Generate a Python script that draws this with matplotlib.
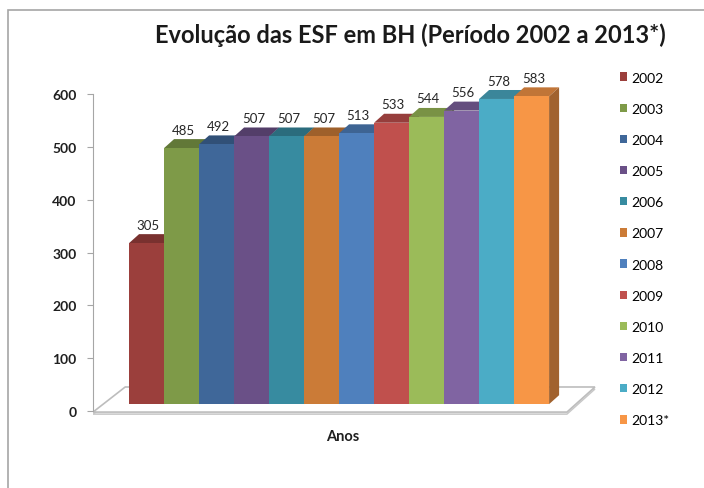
import matplotlib
matplotlib.use("Agg")
import matplotlib.pyplot as plt
from matplotlib.patches import Polygon, Patch, Rectangle

plt.rcParams['font.family'] = ['Lato', 'DejaVu Sans']

# data
anos = ["2002", "2003", "2004", "2005", "2006", "2007",
        "2008", "2009", "2010", "2011", "2012", "2013*"]
equipes = [305, 485, 492, 507, 507, 507, 513, 533, 544, 556, 578, 583]
cores = ["#9B3F3C", "#7E9A48", "#3F6799", "#6A5087", "#378BA0", "#CB7B37",
         "#4F80BD", "#C0504D", "#9BBB59", "#8064A2", "#4BACC6", "#F79646"]

titulo = "Evolução das ESF em BH (Período 2002 a 2013*)"


def escurecer(c, f):
    r, g, b = matplotlib.colors.to_rgb(c)
    return (r * f, g * f, b * f)


fig = plt.figure(figsize=(7.04, 4.89), dpi=100)
fig.patches.append(Rectangle((8 / 704, -0.1), 1.2, 1.1 - 11 / 489,
                             transform=fig.transFigure, fill=False,
                             edgecolor="#A6A6A6", linewidth=1.2))

ax = fig.add_axes([93 / 704, 71.7 / 489, 515.6 / 704, 343.2 / 489])
ax.set_xlim(-1.53, 13.2)
ax.set_ylim(-10, 640)

base = 13      # bars stand a bit behind the front of the floor
ddx = 0.286    # depth offset (x)
ddy = 17       # depth offset (y)

# floor slab
chao = [(-1.53, -2), (12.01, -2), (12.81, 45.5), (-0.61, 45.5)]
ax.add_patch(Polygon([(x, y - 4) for x, y in chao], closed=True,
                     facecolor="#EBEBEB", edgecolor="#C8C8C8", lw=1, zorder=0.5))
ax.add_patch(Polygon(chao, closed=True, facecolor="white",
                     edgecolor="#BDBDBD", lw=1.2, zorder=1))

x = list(range(len(equipes)))
barras = ax.bar(x, equipes, bottom=base, width=1, color=cores, linewidth=0)
for i, (b, v, c) in enumerate(zip(barras, equipes, cores)):
    topo = base + v
    b.set_zorder(4 + 3 * i)
    ax.add_patch(Polygon([(i - 0.5, topo), (i + 0.5, topo),
                          (i + 0.5 + ddx, topo + ddy), (i - 0.5 + ddx, topo + ddy)],
                         closed=True, facecolor=escurecer(c, 0.78), lw=0,
                         zorder=2 + 3 * i))
    ax.add_patch(Polygon([(i + 0.5, base), (i + 0.5 + ddx, base + ddy),
                          (i + 0.5 + ddx, topo + ddy), (i + 0.5, topo)],
                         closed=True, facecolor=escurecer(c, 0.65), lw=0,
                         zorder=3 + 3 * i))
    ax.annotate(str(v), (i + 0.05, topo + ddy), xytext=(0, 2.5),
                textcoords="offset points", ha="center", va="bottom",
                fontsize=9.5, color="#262626", zorder=50)

for s in ["top", "right", "bottom"]:
    ax.spines[s].set_visible(False)
ax.spines["left"].set_bounds(0, 600)
ax.spines["left"].set_color("#A6A6A6")
ax.set_yticks(range(0, 601, 100))
ax.tick_params(axis="y", length=4, color="#A6A6A6", pad=8,
               labelsize=10, labelcolor="#1F1F1F")
ax.set_xticks([])
for t in ax.get_yticklabels():
    t.set_fontweight("bold")

fig.text(343 / 704, 1 - 437 / 489, "Anos", ha="center", va="center",
         fontsize=10.5, fontweight="bold", color="#1F1F1F")
fig.text(410 / 704, 1 - 35 / 489, titulo, ha="center", va="center",
         fontsize=17, fontweight="bold", color="#1A1A1A")

alcas = [Patch(facecolor=c, edgecolor="none") for c in cores]
fig.legend(alcas, anos, loc="upper left", bbox_to_anchor=(614 / 704, 1 - 67 / 489),
           frameon=False, fontsize=10, handlelength=0.55, handleheight=0.55,
           handletextpad=0.3, labelspacing=1.38, borderaxespad=0)

fig.savefig("out.png", dpi=100)
